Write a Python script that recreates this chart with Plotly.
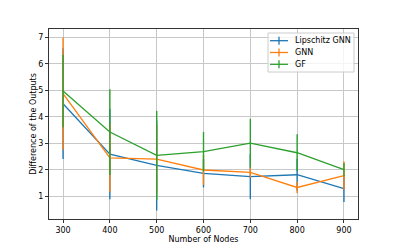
import plotly.graph_objects as go

nodes = [300, 400, 500, 600, 700, 800, 900]

lip_mean = [4.50, 2.60, 2.17, 1.87, 1.75, 1.82, 1.30]
lip_err = [2.09, 1.70, 1.70, 0.53, 0.85, 0.60, 0.51]

gnn_mean = [4.88, 2.46, 2.41, 2.00, 1.91, 1.34, 1.79]
gnn_err = [2.12, 1.29, 1.30, 0.56, 0.20, 0.22, 0.53]

gf_mean = [4.98, 3.43, 2.55, 2.69, 3.01, 2.65, 2.01]
gf_err = [1.37, 1.62, 1.68, 0.74, 0.92, 0.70, 0.25]

series = [
    ("Lipschitz GNN", lip_mean, lip_err, "#1f77b4"),
    ("GNN", gnn_mean, gnn_err, "#ff7f0e"),
    ("GF", gf_mean, gf_err, "#2ca02c"),
]

fig = go.Figure()
for name, m, e, c in series:
    fig.add_trace(go.Scatter(
        x=nodes, y=m, name=name, mode="lines", showlegend=False,
        line=dict(color=c, width=1.3),
        error_y=dict(type="data", array=e, visible=True, width=0, thickness=1.4, color=c),
    ))

font = dict(family="DejaVu Sans", size=8, color="#000000")

# page body has an 8px margin; target plot box in window pixels
OFF = 8
W, H = 398 - OFF, 247 - OFF
X0, X1, Y0, Y1 = 49, 358, 29, 219  # plot box in window pixels
ml, mr, mt, mb = X0 - OFF, W - (X1 - OFF), Y0 - OFF, H - (Y1 - OFF)
pw, ph = X1 - X0, Y1 - Y0

def px(x):
    return (x - X0) / pw

def py(y):
    return (Y1 - y) / ph

shapes = [dict(type="rect", xref="paper", yref="paper",
               x0=px(268), x1=px(354), y0=py(72), y1=py(33),
               line=dict(color="#cccccc", width=1), fillcolor="rgba(255,255,255,0.8)",
               layer="above")]
annotations = []
for i, (name, m, e, c) in enumerate(series):
    yc = 40.7 + i * 11.8
    shapes.append(dict(type="line", xref="paper", yref="paper",
                       x0=px(270), x1=px(288), y0=py(yc), y1=py(yc),
                       line=dict(color=c, width=1.3), layer="above"))
    shapes.append(dict(type="line", xref="paper", yref="paper",
                       x0=px(279), x1=px(279), y0=py(yc - 4), y1=py(yc + 4),
                       line=dict(color=c, width=1.3), layer="above"))
    annotations.append(dict(xref="paper", yref="paper", x=px(293), y=py(yc),
                            xanchor="left", yanchor="middle", text=name,
                            showarrow=False, font=font))

fig.update_layout(
    width=W, height=H,
    margin=dict(l=ml, r=mr, t=mt, b=mb),
    paper_bgcolor="white", plot_bgcolor="white",
    font=font,
    showlegend=False,
    shapes=shapes,
    annotations=annotations,
    xaxis=dict(
        range=[270, 930], tickvals=nodes, ticktext=[str(v) for v in nodes],
        showgrid=True, gridcolor="#c8c8c8", gridwidth=0.8,
        showline=True, linecolor="#333333", linewidth=1, mirror=True,
        ticks="outside", ticklen=3, tickcolor="#333333",
        zeroline=False, automargin=False,
        title=dict(text="Number of Nodes", font=font, standoff=2),
    ),
    yaxis=dict(
        range=[0.15, 7.32], tickvals=[1, 2, 3, 4, 5, 6, 7],
        showgrid=True, gridcolor="#c8c8c8", gridwidth=0.8,
        showline=True, linecolor="#333333", linewidth=1, mirror=True,
        ticks="outside", ticklen=3, tickcolor="#333333",
        zeroline=False, automargin=False,
        title=dict(text="Difference of the Outputs", font=font, standoff=0),
    ),
)

fig.write_html("out.html")
